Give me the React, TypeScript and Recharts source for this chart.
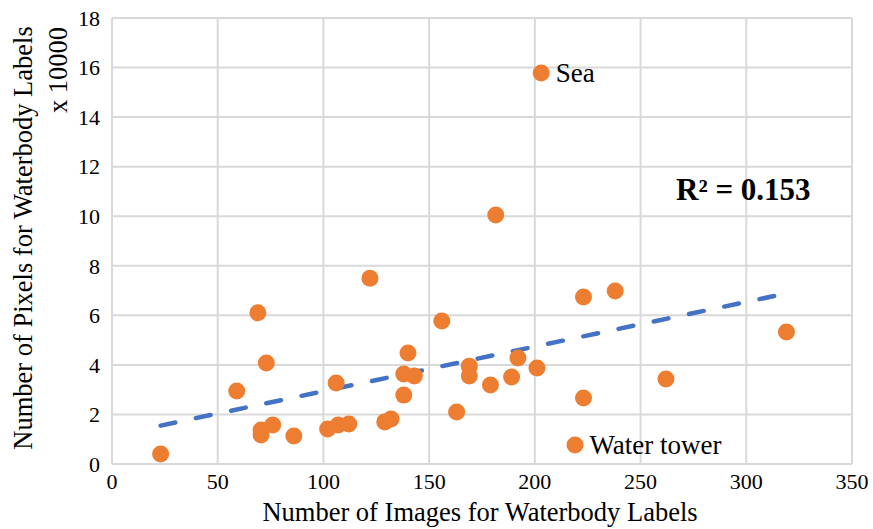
import {
  ScatterChart,
  Scatter,
  XAxis,
  YAxis,
  CartesianGrid,
  ReferenceLine,
  LabelList,
} from "recharts";

const imageCounts = [
  23, 59, 69, 70.5, 70.5, 73, 76, 86, 102, 106, 107, 112, 122, 129, 132, 138,
  138, 140, 143, 156, 163, 169, 169, 179, 181.5, 189, 192, 201, 203, 223, 223,
  238, 262, 319, 219,
];
const pixelCounts = [
  0.4, 2.95, 6.1, 1.37, 1.17, 4.08, 1.57, 1.13, 1.41, 3.27, 1.57, 1.61, 7.5,
  1.7, 1.82, 2.78, 3.63, 4.48, 3.55, 5.77, 2.1, 3.95, 3.55, 3.19, 10.05, 3.51,
  4.28, 3.87, 15.78, 6.74, 2.66, 6.98, 3.43, 5.33, 0.77,
];
// only two points carry a data label
const pointNames: Record<number, string> = { 28: "Sea", 34: "Water tower" };

const xTicks = [0, 50, 100, 150, 200, 250, 300, 350];
const yTicks = [0, 2, 4, 6, 8, 10, 12, 14, 16, 18];

// linear trendline ends
const trendStart = { x: 23, y: 1.55 };
const trendEnd = { x: 321, y: 6.92 };
const rSquared = "R² = 0.153";

const FONT = "'Liberation Serif', 'Times New Roman', serif";
const ORANGE = "#ED7D31";
const BLUE = "#4472C4";
const GRID = "#d9d9d9";

const points = imageCounts.map((x, i) => ({
  x,
  y: pixelCounts[i],
  name: pointNames[i] ?? "",
}));

const renderName = (props: any) => {
  const { x, y, width, height, value } = props;
  if (!value) return null;
  return (
    <text
      x={x + width + 10}
      y={y + height / 2}
      dy="0.35em"
      style={{ fontFamily: FONT, fontSize: 27 }}
      fill="#000"
    >
      {value}
    </text>
  );
};

export default function App() {
  const tick = { style: { fontFamily: FONT }, fontSize: 22, fill: "#000" };
  return (
    <div
      style={{
        position: "absolute",
        left: 0,
        top: 0,
        width: 873,
        height: 529,
        background: "#fff",
        fontFamily: FONT,
      }}
    >
      <ScatterChart
        width={873}
        height={529}
        margin={{ top: 18, right: 21, bottom: 35, left: 72 }}
        style={{ fontFamily: FONT }}
      >
        <CartesianGrid stroke={GRID} strokeWidth={2} />
        <XAxis
          type="number"
          dataKey="x"
          domain={[0, 350]}
          ticks={xTicks}
          tick={tick}
          tickLine={false}
          axisLine={{ stroke: GRID, strokeWidth: 2 }}
          height={30}
          tickMargin={3}
        />
        <YAxis
          type="number"
          dataKey="y"
          domain={[0, 18]}
          ticks={yTicks}
          tick={tick}
          tickLine={false}
          axisLine={{ stroke: GRID, strokeWidth: 2 }}
          width={40}
          tickMargin={6}
        />
        <Scatter
          data={points}
          fill={ORANGE}
          isAnimationActive={false}
          shape={(p: any) => <circle cx={p.cx} cy={p.cy} r={8.5} fill={ORANGE} />}
        >
          <LabelList dataKey="name" content={renderName} />
        </Scatter>
        <ReferenceLine
          segment={[trendStart, trendEnd]}
          stroke={BLUE}
          strokeWidth={4.5}
          strokeDasharray="15 21"
          strokeLinecap="round"
          ifOverflow="visible"
        />
      </ScatterChart>
      <svg
        width={873}
        height={529}
        style={{ position: "absolute", left: 0, top: 0, pointerEvents: "none", fontFamily: FONT }}
      >
        <text x={480} y={521} textAnchor="middle" fontSize={26.5} fill="#000">
          Number of Images for Waterbody Labels
        </text>
        <text
          transform="translate(32, 238) rotate(-90)"
          textAnchor="middle"
          fontSize={26.5}
          fill="#000"
        >
          Number of Pixels for Waterbody Labels
        </text>
        <text
          transform="translate(67, 70) rotate(-90)"
          textAnchor="middle"
          fontSize={26.5}
          fill="#000"
        >
          x 10000
        </text>
        <text x={676} y={200} fontSize={31} fontWeight="bold" fill="#000">
          {rSquared}
        </text>
      </svg>
    </div>
  );
}
